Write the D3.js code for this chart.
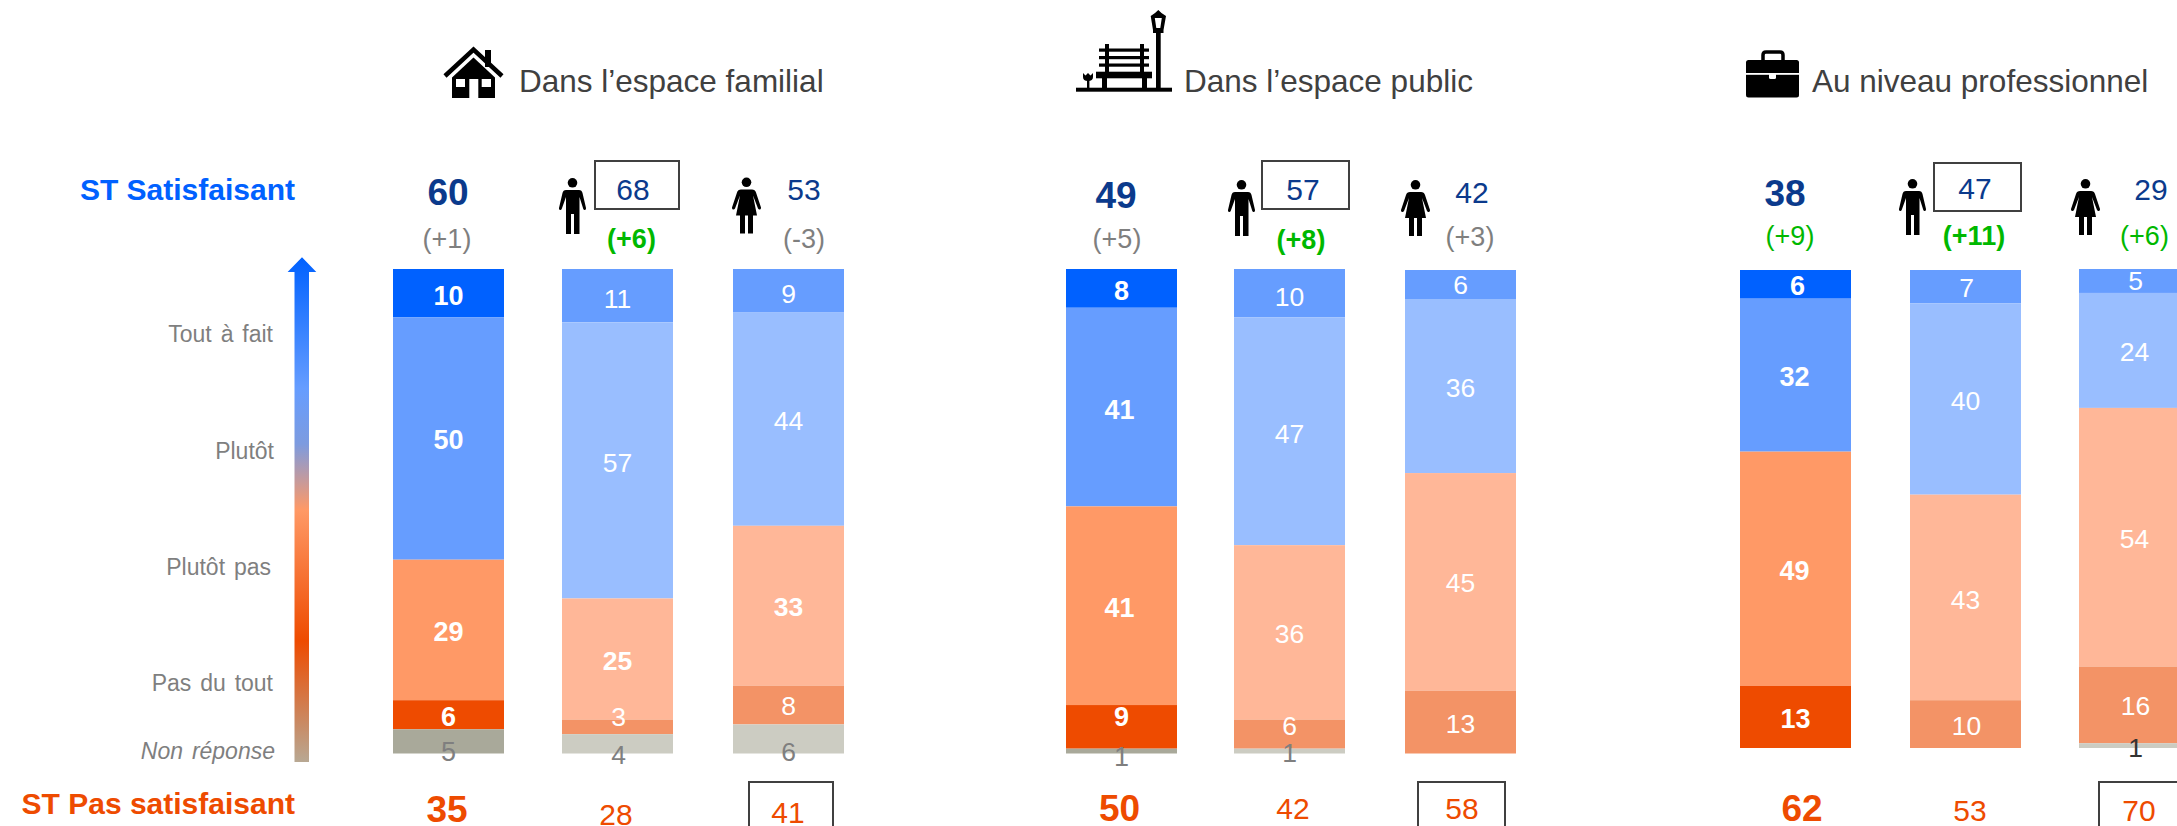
<!DOCTYPE html>
<html><head><meta charset="utf-8">
<script src="https://cdn.jsdelivr.net/npm/d3@7/dist/d3.min.js"></script>
<style>html,body{margin:0;padding:0;background:#fff;overflow:hidden}svg{display:block;font-family:"Liberation Sans",Arial,sans-serif}</style>
</head><body><div id="chart"></div>
<script>
// ---- data ----
const sections = ["Dans l’espace familial", "Dans l’espace public", "Au niveau professionnel"];
const scaleLabels = ["Tout à fait", "Plutôt", "Plutôt pas", "Pas du tout", "Non réponse"];
const barIds = ["f0","f1","f2","p0","p1","p2","w0","w1","w2"];
const toutAFait  = [10,11, 9, 8,10, 6, 6, 7, 5];
const plutot     = [50,57,44,41,47,36,32,40,24];
const plutotPas  = [29,25,33,41,36,45,49,43,54];
const pasDuTout  = [ 6, 3, 8, 9, 6,13,13,10,16];
const nonReponse = [ 5, 4, 6, 1, 1, 0, 0, 0, 1];
const stSatisfaisant    = [60,68,53,49,57,42,38,47,29];
const stPasSatisfaisant = [35,28,41,50,42,58,62,53,70];
const evolution = ["+1","+6","-3","+5","+8","+3","+9","+11","+6"];
const evolutionSignificant = [false,true,false,false,true,false,true,true,true];

// ---- layout ----
const W = 2177, H = 826, barW = 111;
const barLeft = d3.scaleOrdinal(barIds, [393,562,733,1066,1234,1405,1740,1910,2079]);
const barTop  = [269,269,269,269,269,270,270,270,269];
const barBot  = [753.5,753.5,753.5,753.5,753.5,753.5,748,748,748];
const yScales = barIds.map((_, i) => d3.scaleLinear([0,100],[barTop[i],barBot[i]]));
const keys = ["a","b","c","d","e"];
const rows = barIds.map((id,i)=>({id,a:toutAFait[i],b:plutot[i],c:plutotPas[i],d:pasDuTout[i],e:nonReponse[i]}));
const stacked = d3.stack().keys(keys)(rows);
const strongCols = ["#0061FF","#669DFF","#FF9966","#EE4B00","#A9A99A"];
const lightCols  = ["#669DFF","#99BEFF","#FFB798","#F39366","#CCCCC2"];
// hand placement of labels relative to the segment centre, as in the source slide
const dyBySeg = {
 f0:[2,1,2,2,10], f1:[3,2,2,-10,11], f2:[3,2,1,1,13],
 p0:[2,2.5,1.5,-10.5,5], p1:[3,2,1,-8,2], p2:[0.5,1.5,1,2,0],
 w0:[1,1.5,2,1.5,0], w1:[1,2,2,2,0], w2:[0,1.5,1,1,2]
};
const dxBySeg = {w0:[2,-1,-1,0,0], w1:[1,0,0,1,0], w2:[1,0,0,1,1], p0:[0,-2,-2,0,0], f1:[0,0,0,1,1]};

const svg = d3.select("#chart").append("svg").attr("width",W).attr("height",H);
const defs = svg.append("defs");
const grad = defs.append("linearGradient").attr("id","arrowGrad").attr("x1",0).attr("x2",0).attr("y1",0).attr("y2",1);
[[0,"#0061FF"],[0.26,"#669DFF"],[0.37,"#7D9BDF"],[0.5,"#FF9966"],[0.76,"#EE4B00"],[1,"#B8A893"]]
 .forEach(s=>grad.append("stop").attr("offset",s[0]).attr("stop-color",s[1]));

// bars
const gSeg = svg.selectAll("g.series").data(stacked).join("g").attr("class","series");
gSeg.selectAll("rect").data((s,k)=>s.map((d,i)=>({d,i,k}))).join("rect")
  .filter(o=>o.d[1]>o.d[0])
  .attr("x",o=>barLeft(barIds[o.i])).attr("width",barW)
  .attr("y",o=>yScales[o.i](o.d[0])).attr("height",o=>yScales[o.i](o.d[1])-yScales[o.i](o.d[0]))
  .attr("fill",o=>(o.i%3===0?strongCols:lightCols)[o.k]);

// segment labels
const gLab = svg.selectAll("g.labels").data(stacked).join("g").attr("class","labels");
gLab.selectAll("text").data((s,k)=>s.map((d,i)=>({d,i,k}))).join("text")
  .filter(o=>o.d[1]>o.d[0])
  .attr("x",o=>barLeft(barIds[o.i])+barW/2+((dxBySeg[barIds[o.i]]||[])[o.k]||0))
  .attr("y",o=>yScales[o.i]((o.d[0]+o.d[1])/2)+dyBySeg[barIds[o.i]][o.k])
  .attr("dy","0.35em").attr("text-anchor","middle")
  .attr("font-size",o=>o.i%3===0?27:26.5)
  .attr("font-weight",o=>(o.i%3===0&&o.k<4)||(o.i===1&&o.k===2)||(o.i===2&&o.k===2)?"bold":"normal")
  .attr("fill",o=>o.k===4?(o.i===8?"#333333":"#7F7F7F"):"#FFFFFF")
  .text(o=>o.d[1]-o.d[0]);

function txt(x,y,t,size,fill,opt={}){
  return svg.append("text").attr("x",x).attr("y",y).attr("dy","0.35em")
   .attr("text-anchor",opt.anchor||"middle").attr("font-size",size).attr("fill",fill)
   .attr("font-weight",opt.bold?"bold":"normal").attr("font-style",opt.italic?"italic":"normal").text(t);
}
// side labels
const navy="#0B3A8C", red="#EE4B00", blue="#0061FF", grey="#7F7F7F", green="#00B800";
txt(295,189,"ST Satisfaisant",30,blue,{anchor:"end",bold:true});
txt(295,803,"ST Pas satisfaisant",30,red,{anchor:"end",bold:true});
const scaleY=[334,451,567,683,751], scaleX=[273,274,271,273,275];
scaleLabels.forEach((t,i)=>txt(scaleX[i],scaleY[i],t,23,grey,{anchor:"end",italic:i===4}).attr("word-spacing",2.5));

// gradient arrow
svg.append("path").attr("d","M302 257.3L316.3 272H309V762H294.5V272H287.6Z").attr("fill","url(#arrowGrad)");

// top totals
const topX=[448,633,804,1116,1303,1472,1785,1975,2151];
const topY=[192,189,189,195,189,192,193,188,189];
const evoX=[447,631.5,804,1117,1301,1470,1790,1974,2144.5];
const evoY=[239,239,239,238.5,240,237,236,236,236];
const botX=[447,616,788,1119.5,1293,1462,1802,1970,2139];
const botY=[809.5,814,812.5,808,808,808,808,810,810];
stSatisfaisant.forEach((v,i)=>{
  const main=i%3===0;
  txt(topX[i],topY[i],v,main?37:30,navy,{bold:main});
  const sig=evolutionSignificant[i];
  txt(evoX[i],evoY[i],"("+evolution[i]+")",27,sig?green:grey,{bold:sig&&i%3===1});
  txt(botX[i],botY[i],stPasSatisfaisant[i],main?37:30,red,{bold:main});
});

// boxes
[[595,161,84,48],[1262,161,87,48],[1934,163,87,48],[749,782,84,60],[1418,782,87,60],[2099,782,87,60]]
 .forEach(b=>svg.append("rect").attr("x",b[0]).attr("y",b[1]).attr("width",b[2]).attr("height",b[3])
   .attr("fill","none").attr("stroke","#404040").attr("stroke-width",2));

// person icons
const manPath="M7 12H20C22 12 23 13 23.5 15L27 30C27.3 32 25 33 24.3 31L20.5 19V56H15V36H12V56H7V19L2.7 31C2 33 -.3 32 0 30L3.5 15C4 13 5 12 7 12Z";
const womanPath="M9 12H20C22 12 23.5 13 24 15L29 30C29.3 32 27 33 26 31L21 18L25 38H21V56H16V38H13V56H8V38H4L8 18L3 31C2 33 -.3 32 0 30L5 15C5.5 13 7 12 9 12Z";
function person(x,y,p,cx){const g=svg.append("g").attr("transform",`translate(${x},${y})`);
  g.append("circle").attr("cx",cx).attr("cy",4.8).attr("r",4.8).attr("fill","#000");
  g.append("path").attr("d",p).attr("fill","#000");}
[[559,178],[1228,180],[1899,179]].forEach(a=>person(a[0],a[1],manPath,13.5));
[[732,177.5],[1401,180],[2071,179]].forEach(a=>person(a[0],a[1],womanPath,14.5));

// section titles
const titleX=[519,1184,1812];
sections.forEach((t,i)=>txt(titleX[i],80.5,t,31.5,"#404040",{anchor:"start"}));

// house icon
const house=svg.append("g").attr("transform","translate(443,46)");
house.append("path").attr("d","M2 30L30.5 3.5L59 30").attr("fill","none").attr("stroke","#000").attr("stroke-width",4.5);
house.append("rect").attr("x",42).attr("y",4).attr("width",6).attr("height",17).attr("fill","#000");
house.append("path").attr("d","M30.5 11.5L52 31.5V52H9V31.5Z").attr("fill","#000");
[[13,33,9,8],[38.7,33,9.3,8],[26.3,33,9,19]].forEach(r=>
  house.append("rect").attr("x",r[0]).attr("y",r[1]).attr("width",r[2]).attr("height",r[3]).attr("fill","#fff"));

// bench icon
const bench=svg.append("g").attr("transform","translate(1076,10)").attr("fill","#000");
[[0,77.7,96,4],[80,22,4.7,57],[20,61.7,56,6.6],[26,68,5,11],[66,68,5,11],[29,34,4,28],[64,34,4,28],[23,38.5,50,3.2],[23,46,50,3.2],[23,53.5,50,3.2],[11,70,2.4,9]]
 .forEach(r=>bench.append("rect").attr("x",r[0]).attr("y",r[1]).attr("width",r[2]).attr("height",r[3]));
bench.append("path").attr("d","M82.3 0L85.5 3L90 6L87.5 20V23H77V20L74.7 6L79 3ZM78.8 8L80.3 18H84.3L85.8 8Z").attr("fill-rule","evenodd");
bench.append("path").attr("d","M7 63L9.5 65.5L12 63L14.5 65.5L17 63V67Q17 71 12 71Q7 71 7 67Z");

// briefcase icon
const cs=svg.append("g").attr("transform","translate(1746,51)");
cs.append("path").attr("d","M17 10V4Q17 1 20 1H34Q37 1 37 4V10").attr("fill","none").attr("stroke","#000").attr("stroke-width",3.5);
cs.append("rect").attr("x",0).attr("y",9).attr("width",53).attr("height",37.5).attr("rx",2.5).attr("fill","#000");
cs.append("rect").attr("x",0).attr("y",22).attr("width",53).attr("height",1.8).attr("fill","#fff");
cs.append("rect").attr("x",23).attr("y",22).attr("width",7).attr("height",6).attr("rx",1.5).attr("fill","#fff");
</script></body></html>
